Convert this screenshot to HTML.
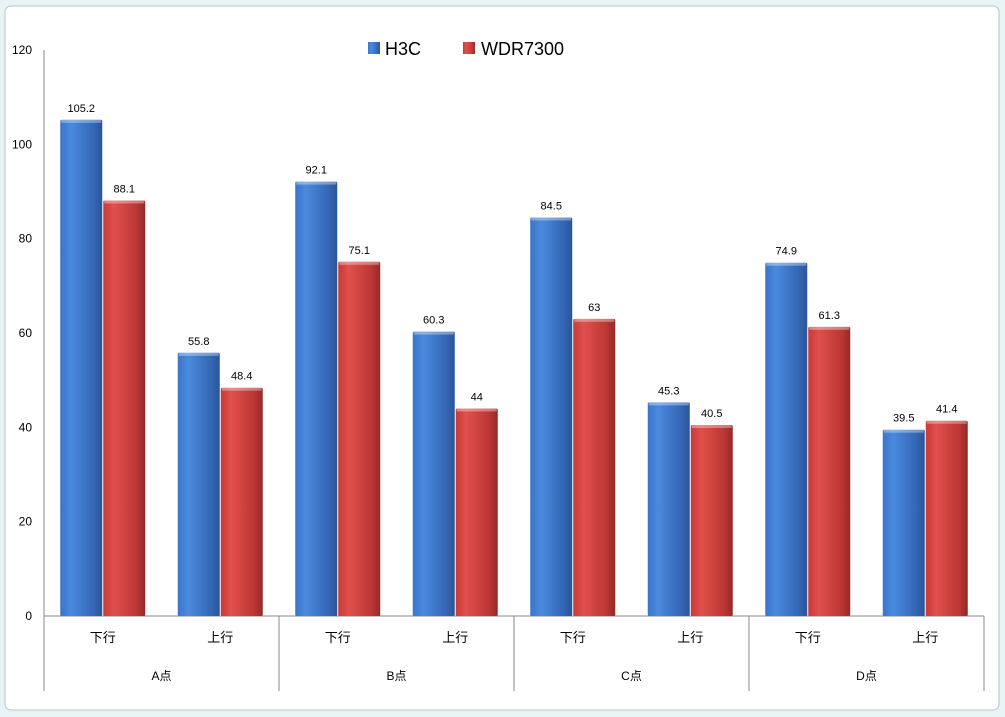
<!DOCTYPE html>
<html><head><meta charset="utf-8"><style>
html,body{margin:0;padding:0;background:#e8f3f6;}
svg{display:block;font-family:"Liberation Sans","Noto Sans CJK SC",sans-serif;}
</style></head><body>
<svg id="chart" width="1005" height="717" xmlns="http://www.w3.org/2000/svg">
<defs>
<linearGradient id="gb" x1="0" x2="1" y1="0" y2="0"><stop offset="0" stop-color="#3a74c8"/><stop offset="0.25" stop-color="#4a8ade"/><stop offset="0.8" stop-color="#3466b4"/><stop offset="1" stop-color="#2a5596"/></linearGradient>
<linearGradient id="gr" x1="0" x2="1" y1="0" y2="0"><stop offset="0" stop-color="#c83a38"/><stop offset="0.25" stop-color="#e0504c"/><stop offset="0.8" stop-color="#bb3634"/><stop offset="1" stop-color="#922a28"/></linearGradient>
</defs>
<rect x="5" y="6" width="994" height="704" rx="6" fill="#fff" stroke="#b8c4c8"/>
<g id="axes"></g>
<g id="bars"></g>
<g>
<rect x="368" y="42" width="12" height="12" fill="url(#gb)"/>
<text x="385" y="55" font-size="18" fill="#000">H3C</text>
<rect x="463" y="42" width="12" height="12" fill="url(#gr)"/>
<text x="481" y="55" font-size="18" fill="#000">WDR7300</text>
</g>
</svg>
<script>
const groups = ["A点","B点","C点","D点"];
const subcats = ["下行","上行"];
const h3c = [105.2,55.8,92.1,60.3,84.5,45.3,74.9,39.5];
const wdr = [88.1,48.4,75.1,44,63,40.5,61.3,41.4];
const yTicks = [0,20,40,60,80,100,120];

const NS="http://www.w3.org/2000/svg";
const x0=44,x1=984,yBase=616,yTop=50,yMax=120;
const y=v=>yBase-(v/yMax)*(yBase-yTop);
const nCat=groups.length*subcats.length;
const catW=(x1-x0)/nCat;
function mk(tag,attrs,parent,text){const e=document.createElementNS(NS,tag);for(const k in attrs)e.setAttribute(k,attrs[k]);if(text!==undefined)e.textContent=text;parent.appendChild(e);return e;}
const axes=document.getElementById('axes'),bars=document.getElementById('bars');
let e=mk('line',{x1:x0,x2:x0,y1:yTop,y2:691,stroke:'#888'},axes);


e=mk('line',{x1:x0,x2:x1,y1:yBase,y2:yBase,stroke:'#888'},axes);


yTicks.forEach(t=>{
  const tx=mk('text',{x:32,y:y(t)+4,'font-size':12,'text-anchor':'end',fill:'#000'},axes,String(t));
  
  
});
groups.forEach((g,gi)=>{
  const gx=x0+gi*catW*2;
  const sep=mk('line',{x1:gx+catW*2,x2:gx+catW*2,y1:yBase,y2:691,stroke:'#888'},axes);
  
  
  const gl=mk('text',{x:gx+catW,y:680,'font-size':12,'text-anchor':'middle',fill:'#000'},axes,g);
  
  
  subcats.forEach((s,si)=>{
    const ci=gi*2+si;
    const cx=x0+catW*(ci+0.5);
    const cl=mk('text',{x:cx,y:642,'font-size':13,'text-anchor':'middle',fill:'#000'},axes,s);
    
    
    [[h3c,'url(#gb)','h3c',-1],[wdr,'url(#gr)','wdr7300',0]].forEach(([arr,fill,nm,off])=>{
      const v=arr[ci],bw=42,bx=cx+off*bw+(off<0?-0.5:0.5);
      const r=mk('rect',{x:bx,y:y(v),width:bw,height:yBase-y(v),fill:fill,rx:1.5},bars);
      
      
      const hl=mk('rect',{x:bx+1,y:y(v),width:bw-2,height:3,fill:'#fff','fill-opacity':0.35},bars);
      
      
      const lb=mk('text',{x:bx+bw/2,y:y(v)-8,'font-size':11,'text-anchor':'middle',fill:'#000'},bars,String(v));
      
      
    });
  });
});
</script>
</body></html>
